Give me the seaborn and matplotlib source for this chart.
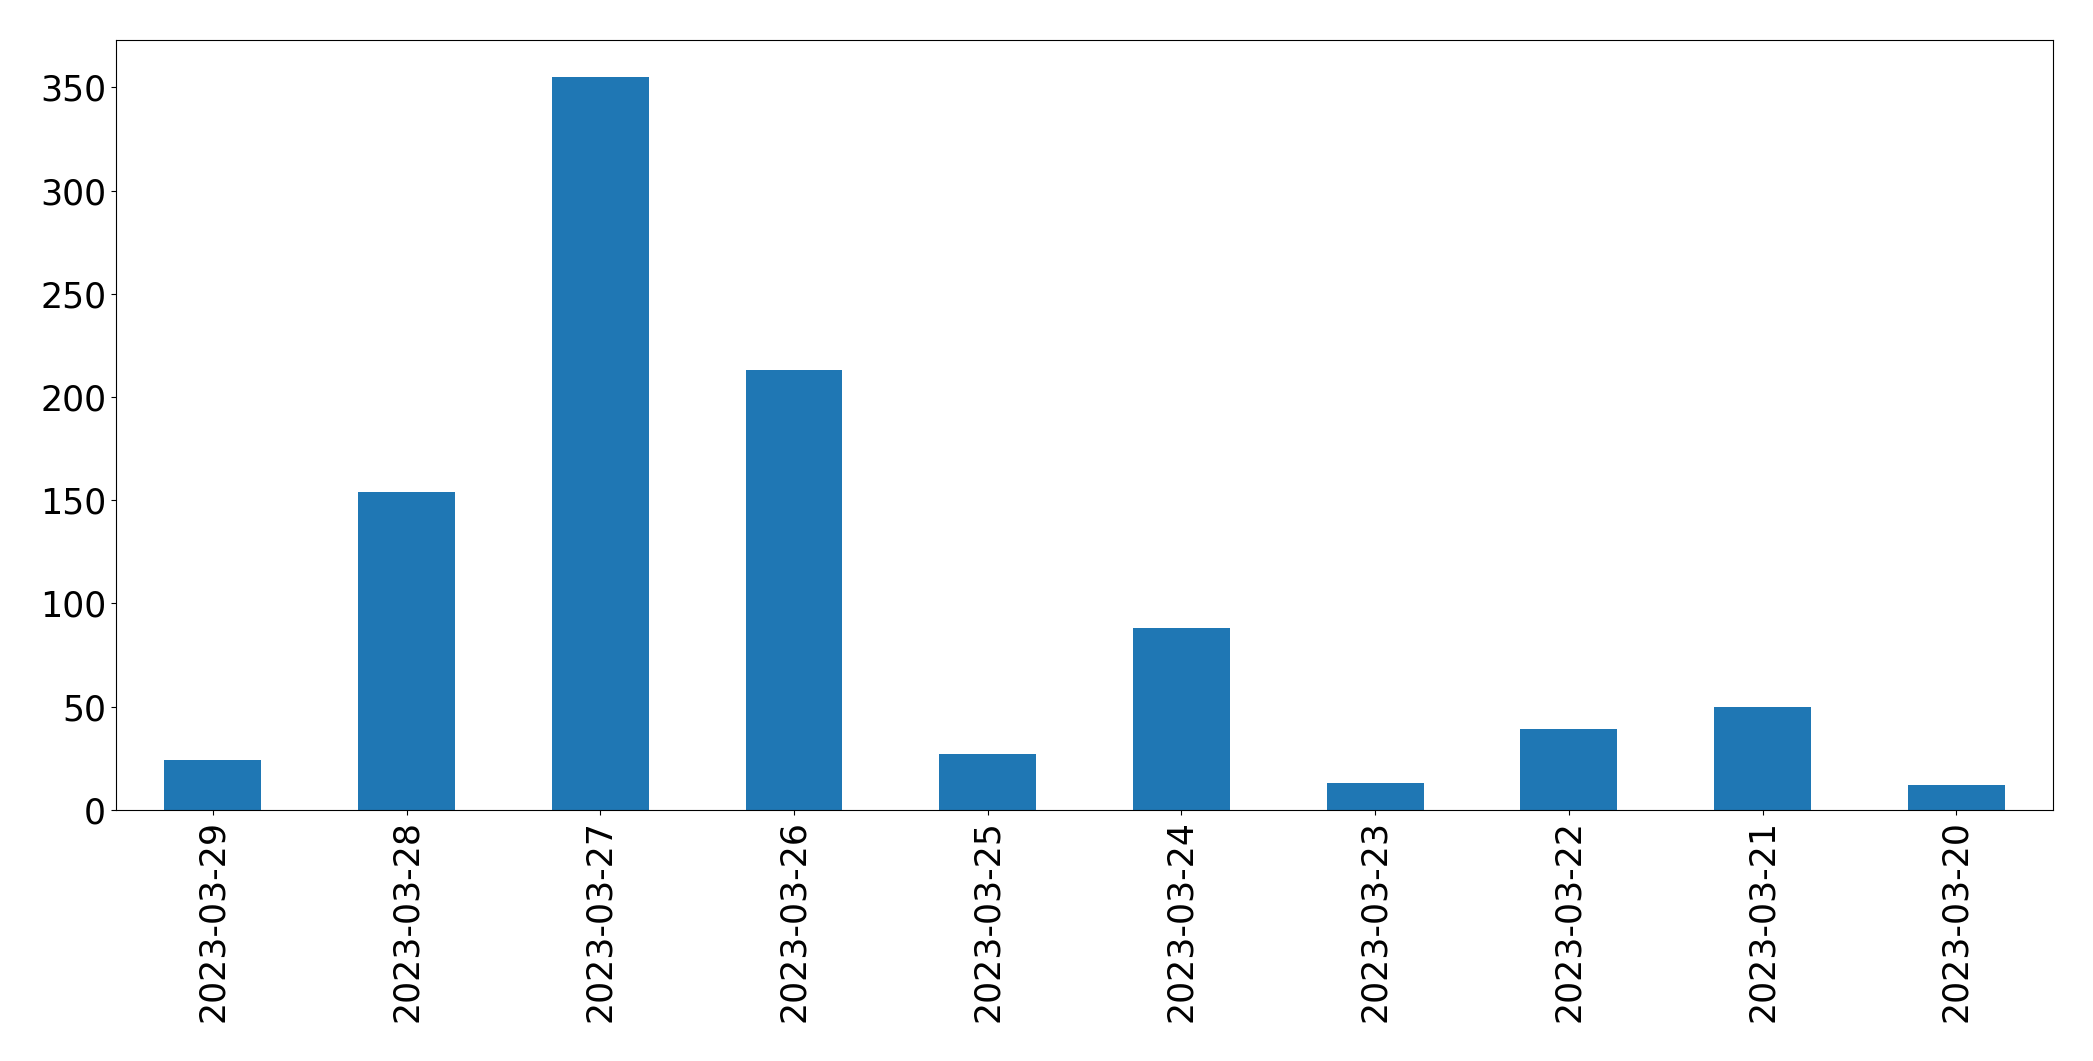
import matplotlib
matplotlib.use("Agg")
import matplotlib.pyplot as plt
import seaborn as sns
import pandas as pd

# daily counts, newest first (as in the reference)
dates = ["2023-03-29", "2023-03-28", "2023-03-27", "2023-03-26", "2023-03-25",
         "2023-03-24", "2023-03-23", "2023-03-22", "2023-03-21", "2023-03-20"]
counts = [24, 154, 355, 213, 27, 88, 13, 39, 50, 12]

df = pd.DataFrame({"date": dates, "count": counts})

fig = plt.figure(figsize=(20.93, 10.61), dpi=100)
ax = fig.add_axes([0.0554, 0.2366, 0.9256, 0.7254])

sns.barplot(data=df, x="date", y="count", order=dates, color="#1f77b4",
            saturation=1, width=0.5, ax=ax)

ax.set_xlim(-0.5, len(dates) - 0.5)
ax.set_ylim(0, max(counts) * 1.05)
ax.set_xlabel("")
ax.set_ylabel("")
ax.tick_params(axis="both", labelsize=25)
plt.setp(ax.get_xticklabels(), rotation=90)

fig.savefig("out.png", dpi=100)
